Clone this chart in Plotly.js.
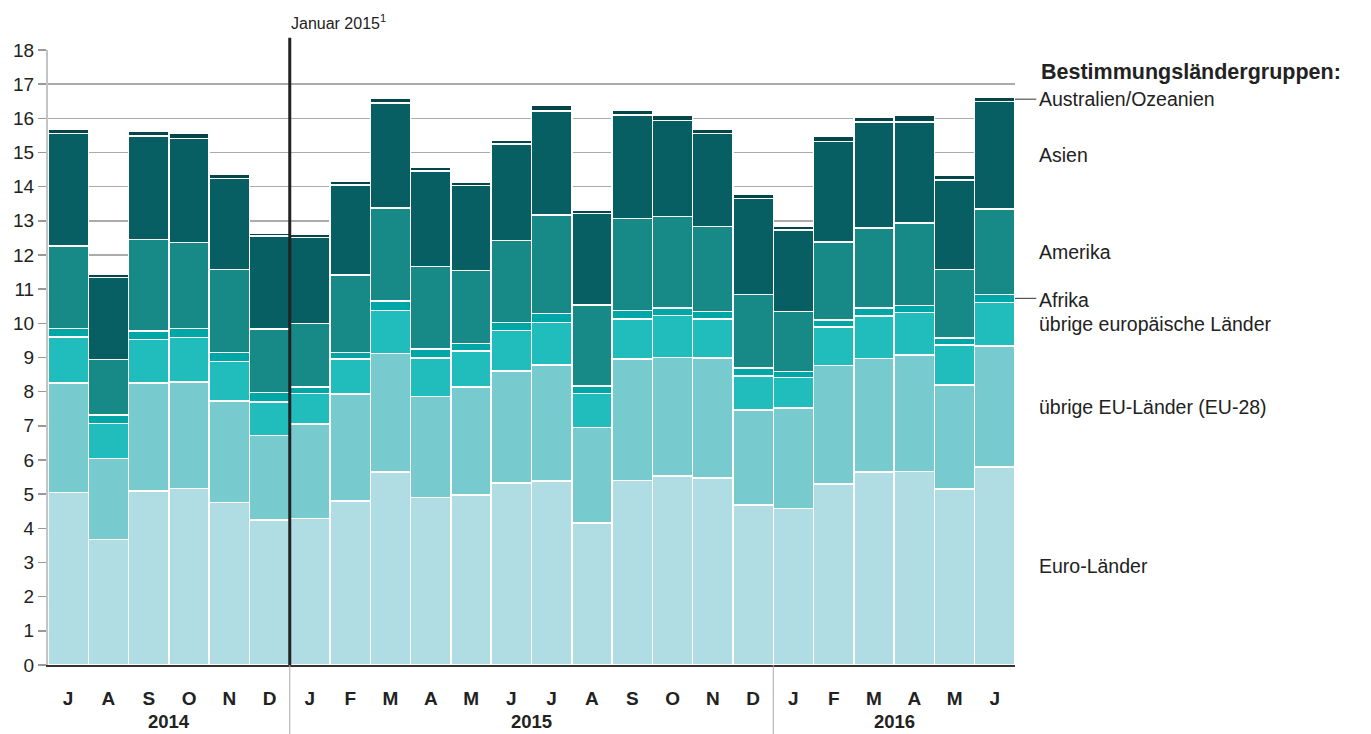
<!DOCTYPE html>
<html>
<head>
<meta charset="utf-8">
<script src="https://cdn.plot.ly/plotly-3.0.1.min.js"></script>
<style>html,body{margin:0;padding:0;background:#fff;}#chart{width:1371px;height:734px;}</style>
</head>
<body>
<div id="chart"></div>
<script>
// Months Jul 2014 – Jun 2016
var monthLabels = ["J","A","S","O","N","D","J","F","M","A","M","J","J","A","S","O","N","D","J","F","M","A","M","J"];
var years = ["2014","2015","2016"];
var yearStart = [0, 6, 18];
var yearEnd = [5, 17, 23];

var seriesNames = ["Euro-Länder","übrige EU-Länder (EU-28)","übrige europäische Länder","Afrika","Amerika","Asien","Australien/Ozeanien"];
var seriesColors = ["#b0dde3","#77cbcf","#21bcbc","#00a7a7","#178987","#075e63","#03474a"];

var euro    = [5.05,3.68,5.09,5.17,4.76,4.24, 4.29,4.80,5.65,4.90,4.98,5.32,5.38,4.15,5.40,5.53,5.48,4.69, 4.58,5.30,5.65,5.67,5.15,5.79];
var eu28    = [3.20,2.37,3.16,3.12,2.97,2.48, 2.76,3.13,3.47,2.96,3.16,3.28,3.40,2.80,3.55,3.47,3.50,2.77, 2.94,3.47,3.32,3.40,3.05,3.55];
var eurOth  = [1.35,1.02,1.28,1.30,1.16,0.98, 0.89,1.02,1.26,1.12,1.05,1.19,1.24,0.99,1.17,1.23,1.15,1.00, 0.90,1.13,1.24,1.24,1.16,1.27];
var afrika  = [0.25,0.24,0.24,0.26,0.26,0.28, 0.20,0.20,0.28,0.27,0.22,0.24,0.27,0.22,0.25,0.22,0.21,0.23, 0.17,0.20,0.24,0.21,0.21,0.24];
var amerika = [2.42,1.63,2.68,2.52,2.42,1.85, 1.86,2.26,2.72,2.41,2.13,2.39,2.88,2.38,2.70,2.67,2.50,2.16, 1.75,2.28,2.34,2.41,2.00,2.50];
var asien   = [3.28,2.40,3.03,3.04,2.67,2.72, 2.51,2.64,3.07,2.80,2.50,2.83,3.04,2.67,3.03,2.82,2.71,2.81, 2.39,2.94,3.11,2.97,2.62,3.14];
var austr   = [0.14,0.09,0.14,0.15,0.13,0.10, 0.09,0.11,0.13,0.11,0.10,0.12,0.17,0.11,0.14,0.16,0.14,0.12, 0.12,0.15,0.13,0.18,0.13,0.14];

var yTicks = [0,1,2,3,4,5,6,7,8,9,10,11,12,13,14,15,16,17,18];
var breakLabel = "Januar 2015<sup>1</sup>";
var legendTitle = "Bestimmungsländergruppen:";

var allSeries = [euro, eu28, eurOth, afrika, amerika, asien, austr];
var xIdx = monthLabels.map(function(_, i){ return i; });

var FONT = "Liberation Sans, Arial, Helvetica, sans-serif";

var traces = allSeries.map(function(vals, k){
  return {
    type: "bar",
    x: xIdx,
    y: vals,
    name: seriesNames[k],
    marker: {color: seriesColors[k], line: {color: "#ffffff", width: 1.5}},
    hoverinfo: "skip"
  };
});

var shapes = [];
var annotations = [];

// "Januar 2015" break line
shapes.push({type:"line", xref:"x", yref:"paper", x0:5.5, x1:5.5, y0:0, y1:1.02, line:{color:"#222222", width:3}, layer:"above"});
annotations.push({xref:"x", yref:"paper", x:5.5, y:1.046, xanchor:"left", yanchor:"middle", xshift:-1, text:breakLabel, showarrow:false, font:{family:FONT, size:16, color:"#222"}});

// year dividers and labels
[5.5, 17.5].forEach(function(v){
  shapes.push({type:"line", xref:"x", yref:"paper", x0:v, x1:v, y0:0, y1:-0.115, line:{color:"#aaaaaa", width:1}});
});
years.forEach(function(yr, i){
  annotations.push({xref:"x", yref:"paper", x:(yearStart[i]+yearEnd[i])/2, y:-0.092, yanchor:"middle", borderpad:0, text:"<b>"+yr+"</b>", showarrow:false, font:{family:FONT, size:18.5, color:"#222"}});
});

// right-side labels at midpoints of last bar's segments
var last = monthLabels.length - 1;
var cum = 0;
var mids = [];
allSeries.forEach(function(vals){ mids.push(cum + vals[last]/2); cum += vals[last]; });
var labelOffsets = [0, 0, 0, -2, 0, 0, 0];
seriesNames.forEach(function(nm, k){
  annotations.push({xref:"paper", yref:"y", x:1.0225, y:mids[k], xanchor:"left", yanchor:"middle", yshift:labelOffsets[k], text:nm, showarrow:false, font:{family:FONT, size:19.5, color:"#222"}});
});
// leader lines for small segments
[3, 6].forEach(function(k){
  shapes.push({type:"line", xref:"paper", yref:"y", x0:1.0, x1:1.022, y0:mids[k], y1:mids[k], line:{color:"#555555", width:1.2}});
});
annotations.push({xref:"paper", yref:"paper", x:1.0245, y:0.964, xanchor:"left", yanchor:"middle", text:"<b>"+legendTitle+"</b>", showarrow:false, font:{family:FONT, size:21.5, color:"#222"}});

var layout = {
  width:1371, height:734,
  margin:{l:48, r:356, t:50, b:69},
  paper_bgcolor:"#ffffff", plot_bgcolor:"#ffffff",
  barmode:"stack", bargap:0,
  showlegend:false,
  font:{family:FONT, color:"#222"},
  xaxis:{
    range:[-0.5, 23.5], tickmode:"array", tickvals:xIdx,
    ticktext:monthLabels.map(function(m){return "<b>"+m+"</b>";}),
    tickfont:{family:FONT, size:19, color:"#222"},
    ticks:"", ticklabelstandoff:15,
    showline:true, linecolor:"#333333", linewidth:2,
    showgrid:false, zeroline:false, fixedrange:true
  },
  yaxis:{
    range:[0, 18], tickmode:"array", tickvals:yTicks,
    tickfont:{family:FONT, size:19, color:"#222"},
    ticks:"outside", ticklen:8, tickcolor:"#999999", tickwidth:1.5,
    showline:true, linecolor:"#c4c4c4", linewidth:2,
    showgrid:true, gridcolor:"#ababab", gridwidth:1.5,
    zeroline:false, fixedrange:true
  },
  shapes:shapes,
  annotations:annotations
};

Plotly.newPlot("chart", traces, layout, {displayModeBar:false, staticPlot:true});
</script>
</body>
</html>
